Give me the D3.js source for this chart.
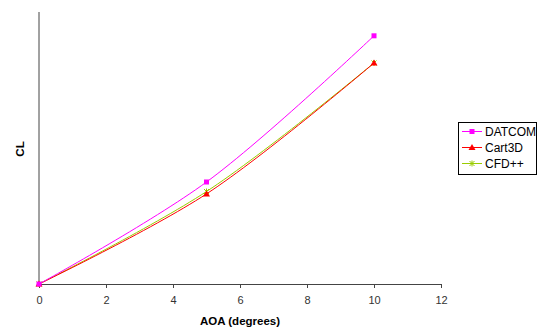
<!DOCTYPE html>
<html>
<head>
<meta charset="utf-8">
<script src="https://cdn.jsdelivr.net/npm/d3@7"></script>
<style>
  body { margin: 0; background: #fff; }
  text { font-family: "Liberation Sans", Arial, sans-serif; }
</style>
</head>
<body>
<div id="chart"></div>
<script>
// chart data
let aoa = [0, 5, 10];
let datcom = [0, 0.300, 0.730];
let cart3d = [0, 0.265, 0.650];
let cfdpp = [0, 0.272, 0.650];
let x_ticks = [0, 2, 4, 6, 8, 10, 12];

let series = [
  {name: "DATCOM", values: datcom, color: "#ff00ff", marker: "square"},
  {name: "Cart3D", values: cart3d, color: "#ff0000", marker: "triangle"},
  {name: "CFD++", values: cfdpp, color: "#99cc00", marker: "star"}
];

let width = 537, height = 327;
let margin = {top: 12, right: 96, bottom: 43, left: 39};

let svg = d3.select("#chart")
            .append("svg")
            .attr("width", width)
            .attr("height", height);

let x = d3.scaleLinear()
          .domain([0, 12])
          .range([margin.left, width - margin.right]);

let y = d3.scaleLinear()
          .domain([0, 0.8])
          .range([height - margin.bottom, margin.top]);

// y axis line (no ticks)
svg.append("line")
   .attr("x1", x(0)).attr("x2", x(0))
   .attr("y1", y(0)).attr("y2", y(0.8))
   .style("stroke", "#444")
   .style("stroke-width", 1);

// x axis
let xa = svg.append("g")
   .attr("transform", "translate(0," + y(0) + ")")
   .call(d3.axisBottom(x).tickValues(x_ticks).tickSize(4).tickSizeOuter(4).tickPadding(8));
xa.select(".domain").style("stroke", "#444");
xa.selectAll(".tick line").style("stroke", "#444");
xa.selectAll("text").attr("font-size", 11).attr("fill", "#333")
  .style("font-family", "'Liberation Sans', Arial, sans-serif");

svg.append("text")
   .attr("x", (x(0) + x(12)) / 2)
   .attr("y", 325)
   .attr("text-anchor", "middle")
   .attr("font-size", 11.5)
   .attr("font-weight", "bold")
   .text("AOA (degrees)");

svg.append("text")
   .attr("transform", "translate(24," + 149 + ") rotate(-90)")
   .attr("text-anchor", "middle")
   .attr("font-size", 11.5)
   .attr("font-weight", "bold")
   .text("CL");

let line = d3.line()
             .x(function(d) { return x(d[0]); })
             .y(function(d) { return y(d[1]); })
             .curve(d3.curveCatmullRom.alpha(0.5));

function drawMarker(g, type, cx, cy, color) {
  if (type === "square") {
    g.append("rect")
     .attr("x", cx - 2.5).attr("y", cy - 2.5)
     .attr("width", 5).attr("height", 5)
     .style("fill", color);
  } else if (type === "triangle") {
    g.append("path")
     .attr("d", "M" + cx + "," + (cy - 3.5) + "L" + (cx + 3.5) + "," + (cy + 2.5) + "L" + (cx - 3.5) + "," + (cy + 2.5) + "Z")
     .style("fill", color);
  } else {
    g.append("path")
     .attr("d", "M" + (cx - 2.5) + "," + (cy - 2.5) + "L" + (cx + 2.5) + "," + (cy + 2.5) +
                "M" + (cx - 2.5) + "," + (cy + 2.5) + "L" + (cx + 2.5) + "," + (cy - 2.5) +
                "M" + cx + "," + (cy - 3) + "L" + cx + "," + (cy + 3))
     .style("stroke", color)
     .style("stroke-width", 1)
     .style("fill", "none");
  }
}

// draw the series, last first so DATCOM/Cart3D sit on top
series.slice().reverse().forEach(function(s) {
  let pts = aoa.map(function(a, i) { return [a, s.values[i]]; });
  let g = svg.append("g");
  g.append("path")
   .datum(pts)
   .attr("d", line)
   .style("fill", "none")
   .style("stroke", s.color)
   .style("stroke-width", 1);
  pts.forEach(function(p) {
    drawMarker(g, s.marker, x(p[0]), y(p[1]), s.color);
  });
});

// legend
let lg = svg.append("g").attr("transform", "translate(458,122)");
lg.append("rect")
  .attr("x", 0.5).attr("y", 0.5)
  .attr("width", 78).attr("height", 52)
  .style("fill", "#fff")
  .style("stroke", "#000")
  .style("stroke-width", 1);

series.forEach(function(s, i) {
  let cy = 9.5 + i * 16;
  lg.append("line")
    .attr("x1", 4).attr("x2", 24)
    .attr("y1", cy).attr("y2", cy)
    .style("stroke", s.color)
    .style("stroke-width", 1);
  drawMarker(lg, s.marker, 14, cy, s.color);
  lg.append("text")
    .attr("x", 27)
    .attr("y", cy + 4.5)
    .attr("font-size", 12)
    .attr("fill", "#000")
    .text(s.name);
});
</script>
</body>
</html>
